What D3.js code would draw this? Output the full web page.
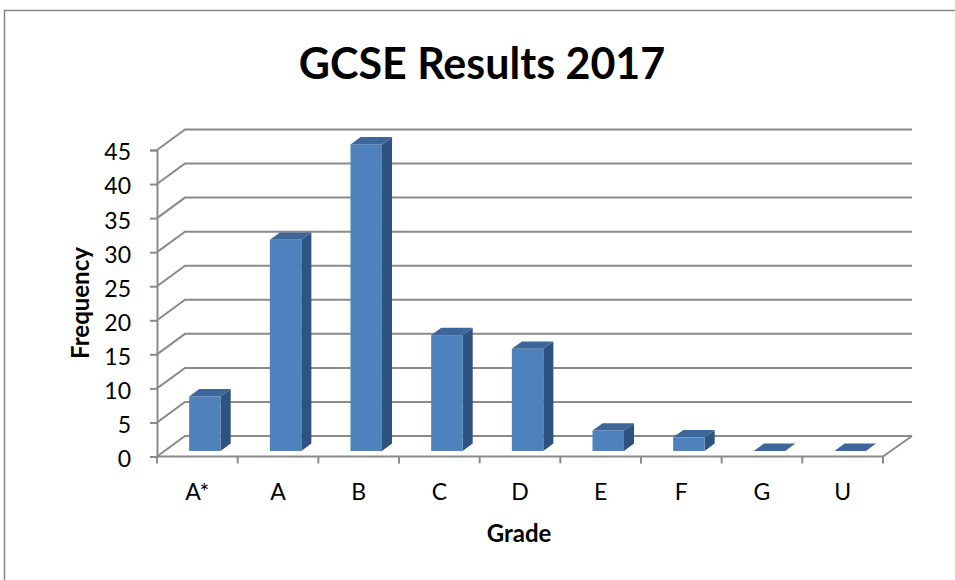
<!DOCTYPE html>
<html>
<head>
<meta charset="utf-8">
<script src="https://cdn.jsdelivr.net/npm/d3@7"></script>
<style>
html,body{margin:0;padding:0;background:#fff;}
svg{display:block;}
text{font-family:Lato,"Open Sans",sans-serif;fill:#000;}
</style>
</head>
<body>
<svg id="chart" width="955" height="580"></svg>
<script>
const categories = ["A*","A","B","C","D","E","F","G","U"];
const frequency = [8,31,45,17,15,3,2,0,0];
const yTicks = [0,5,10,15,20,25,30,35,40,45];
const titleText = "GCSE Results 2017";
const xTitle = "Grade";
const yTitle = "Frequency";

const svg = d3.select("#chart");
const W = 955, H = 580;

// border
svg.append("rect").attr("x",4.5).attr("y",10.5).attr("width",W+10).attr("height",H+10)
  .attr("fill","#fff").attr("stroke","#878787").attr("stroke-width",1.5);

// front plane geometry
const left = 157, right = 883, y0 = 456.5, yTop = 150;
const DX = 28, DY = -20.5; // depth offset
const x = d3.scaleBand().domain(categories).range([left,right]).paddingInner(0).paddingOuter(0);
const y = d3.scaleLinear().domain([0,45]).range([y0,yTop]);

const grid = "#8a8a8a";
const g = svg.append("g");

// gridlines: left wall slant + back wall horizontal
yTicks.forEach(v => {
  const yy = y(v);
  g.append("path")
    .attr("d", `M${left},${yy}L${left+DX},${yy+DY}L${right+DX+1},${yy+DY}`)
    .attr("fill","none").attr("stroke",grid).attr("stroke-width",2);
});
// floor right edge
g.append("path").attr("d",`M${right},${y0}L${right+DX+1},${y0+DY}`)
  .attr("fill","none").attr("stroke",grid).attr("stroke-width",2);

// bars
const f1 = 0.27, f2 = 0.63;
const bw = x.bandwidth()*0.39;
const cFront = "#4F81BD", cSide = "#2F5380", cTop = "#3D679B";
const bars = g.append("g");
categories.forEach((c,i) => {
  const v = frequency[i];
  const cx = x(c) + x.bandwidth()/2;
  const fx0 = cx - bw/2 + f1*DX, fx1 = cx + bw/2 + f1*DX;
  const fyb = y(0) + f1*DY, fyt = y(v) + f1*DY;
  const ddx = (f2-f1)*DX, ddy = (f2-f1)*DY;
  if (v > 0) {
    bars.append("path").attr("d",`M${fx1},${fyb}L${fx1+ddx},${fyb+ddy}L${fx1+ddx},${fyt+ddy}L${fx1},${fyt}Z`).attr("fill",cSide);
    bars.append("rect").attr("x",fx0).attr("y",fyt).attr("width",fx1-fx0).attr("height",fyb-fyt).attr("fill",cFront);
  }
  bars.append("path").attr("d",`M${fx0},${fyt}L${fx1},${fyt}L${fx1+ddx},${fyt+ddy}L${fx0+ddx},${fyt+ddy}Z`).attr("fill",cTop);
});

// y axis
const yAxis = d3.axisLeft(y).tickValues(yTicks).tickSize(7).tickPadding(19);
const ya = svg.append("g").attr("transform",`translate(${left},0)`).call(yAxis);
ya.select(".domain").attr("stroke",grid).attr("stroke-width",2);
ya.selectAll(".tick line").attr("stroke",grid).attr("stroke-width",2);
ya.selectAll(".tick text").style("font-size","23px").style("font-family","Lato, sans-serif").attr("fill","#000").attr("dy","0.43em");

// x axis
const xAxis = d3.axisBottom(x).tickSize(0).tickPadding(27);
const xa = svg.append("g").attr("transform",`translate(0,${y0})`).call(xAxis);
xa.select(".domain").remove();
xa.selectAll(".tick text").style("font-size","23px").style("font-family","Lato, sans-serif").attr("fill","#000");
xa.append("line").attr("x1",left).attr("x2",right).attr("y1",0).attr("y2",0).attr("stroke",grid).attr("stroke-width",2);
const bounds = categories.map(c => x(c)).concat([right]);
xa.selectAll(".btick").data(bounds).enter().append("line")
  .attr("x1",d=>d).attr("x2",d=>d).attr("y1",0).attr("y2",7)
  .attr("stroke",grid).attr("stroke-width",2);

// titles
svg.append("text").attr("x",482).attr("y",79).attr("text-anchor","middle")
  .style("font-size","43px").style("font-weight","bold").text(titleText);
svg.append("text").attr("x",519).attr("y",542).attr("text-anchor","middle")
  .style("font-size","24px").style("font-weight","bold").text(xTitle);
svg.append("text").attr("transform","translate(89,303) rotate(-90)").attr("text-anchor","middle")
  .style("font-size","24px").style("font-weight","bold").text(yTitle);
</script>
</body>
</html>
